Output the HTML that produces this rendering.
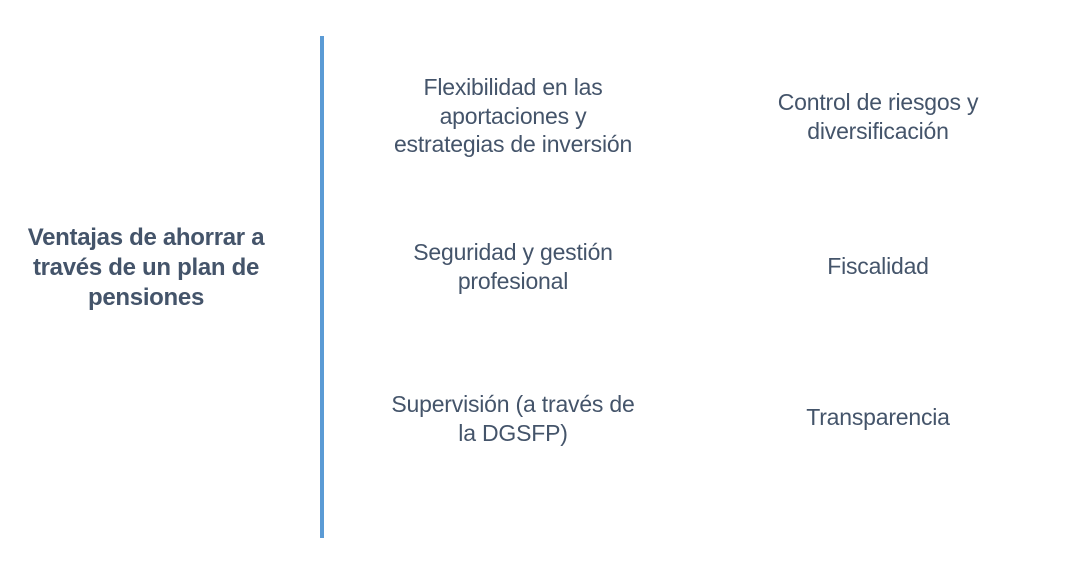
<!DOCTYPE html>
<html><head><meta charset="utf-8"><style>
body{margin:0;width:1082px;height:569px;background:#fff;position:relative;overflow:hidden;font-family:"Liberation Sans",sans-serif;color:#44546A}
.t{position:absolute;text-align:center;font-size:23px;line-height:28.5px;transform:translateX(-50%);white-space:nowrap;letter-spacing:-0.2px}
.b{font-weight:bold;font-size:24px;line-height:30px;letter-spacing:-0.3px}
.line{position:absolute;left:320px;top:36px;width:4px;height:502px;background:#5B9BD5}
</style></head><body>
<div class="line"></div>
<div class="t b" style="left:146px;top:223px">Ventajas de ahorrar a<br>través de un plan de<br>pensiones</div>
<div class="t" style="left:513px;top:73px">Flexibilidad en las<br>aportaciones y<br>estrategias de inversión</div>
<div class="t" style="left:878px;top:88px">Control de riesgos y<br>diversificación</div>
<div class="t" style="left:513px;top:238px">Seguridad y gestión<br>profesional</div>
<div class="t" style="left:878px;top:252px">Fiscalidad</div>
<div class="t" style="left:513px;top:390px">Supervisión (a través de<br>la DGSFP)</div>
<div class="t" style="left:878px;top:403px">Transparencia</div>
</body></html>
